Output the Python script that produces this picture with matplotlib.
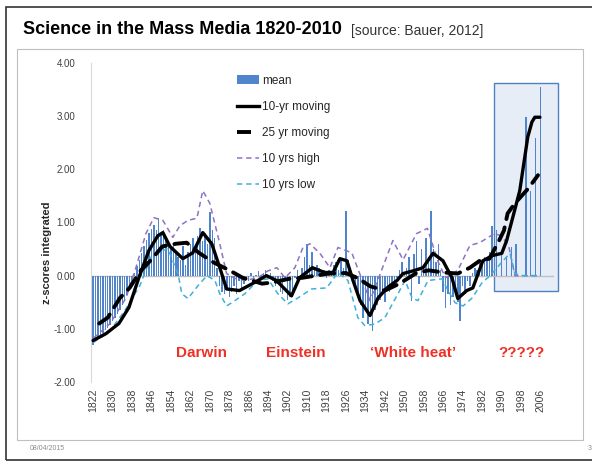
import matplotlib
matplotlib.use("Agg")
import matplotlib.pyplot as plt
from matplotlib.patches import Rectangle, Patch
from matplotlib.lines import Line2D

# ---------------- data ----------------
bar_years = list(range(1822, 2007))
bar_values = [
    -1.30, -1.22, -1.18, -1.12, -1.08, -1.02, -0.98, -0.92, -0.86, -0.80,   # 1822-1831
    -0.72, -0.64, -0.55, -0.45, -0.36, -0.26, -0.12, 0.05, 0.18, 0.30,      # 1832-1841
    0.42, 0.55, 0.68, 0.80, 0.88, 0.95, 0.85, 1.08, 0.80, 0.85,             # 1842-1851
    0.70, 0.55, 0.50, 0.62, 0.45, 0.35, 0.30, 0.55, 0.20, 0.45,             # 1852-1861
    0.60, 0.70, 0.55, 0.75, 0.90, 0.65, 0.80, 0.60, 1.20, 0.85,             # 1862-1871
    0.70, 0.15, -0.20, -0.30, -0.35, -0.25, -0.40, -0.30, -0.20, -0.35,     # 1872-1881
    -0.10, -0.25, -0.15, -0.05, -0.10, 0.05, -0.10, 0.02, 0.08, -0.05,      # 1882-1891
    0.05, 0.10, -0.05, 0.05, -0.10, -0.20, -0.15, -0.30, -0.35, -0.10,      # 1892-1901
    -0.45, -0.40, -0.30, -0.05, 0.10, -0.10, 0.15, 0.35, 0.60, 0.20,        # 1902-1911
    0.45, 0.10, 0.20, 0.15, 0.05, 0.10, -0.05, 0.10, 0.05, 0.20,            # 1912-1921
    0.25, 0.10, 0.30, 0.15, 1.22, 0.30, 0.05, -0.10, -0.25, -0.40,          # 1922-1931
    -0.55, -0.80, -0.60, -0.90, -0.70, -1.05, -0.65, -0.55, -0.45, -0.35,   # 1932-1941
    -0.50, -0.25, -0.30, -0.15, -0.20, -0.05, 0.10, 0.25, 0.05, 0.15,       # 1942-1951
    0.35, -0.47, 0.40, 0.66, -0.15, 0.50, 0.15, 0.70, 0.35, 1.22,           # 1952-1961
    0.50, 0.25, 0.60, 0.10, -0.30, -0.60, -0.35, -0.55, -0.40, -0.30,       # 1962-1971
    -0.50, -0.85, -0.20, -0.35, -0.10, -0.20, 0.05, 0.15, 0.10, 0.25,       # 1972-1981
    0.20, 0.35, 0.30, 0.45, 0.94, 0.00, 0.85, 0.00, 0.40, 0.00,             # 1982-1991
    0.35, 0.00, 0.53, 0.00, 0.60, 0.00, 0.00, 0.00, 2.98, 0.00,             # 1992-2001
    1.60, 0.00, 2.58, 0.00, 3.55,                                           # 2002-2006
]
# tall late bars sit on even years in the picture
bar_years_late_fix = {1999: 2000, 2001: 2002, 2003: 2004, 2005: 2006}

ma10_years = [1822, 1827.3, 1832.6, 1836.7, 1840.8, 1844.9, 1848.6, 1850.7, 1853.6, 1858.9,
              1863, 1867.1, 1870.8, 1874.1, 1876.9, 1882.2, 1887.5, 1893.3, 1897.4, 1903.6,
              1906.9, 1912.2, 1917.2, 1920.7, 1923.5, 1926.4, 1928.9, 1931.8, 1935.9, 1939.2,
              1942.9, 1947, 1949.5, 1953.6, 1957.7, 1961.8, 1965.9, 1969.6, 1972, 1975.7,
              1978.2, 1982.3, 1986.4, 1990.1, 1992.1, 1995.4, 1997.5, 2000.8, 2002.5, 2003.7, 2005.8]
ma10_values = [-1.22, -1.09, -0.90, -0.60, -0.04, 0.47, 0.75, 0.81, 0.55, 0.32,
               0.43, 0.81, 0.60, 0.15, -0.25, -0.28, -0.15, 0.00, -0.09, -0.38,
               -0.04, 0.15, 0.06, 0.06, 0.32, 0.28, -0.09, -0.47, -0.75, -0.42,
               -0.23, -0.09, 0.04, 0.09, 0.15, 0.42, 0.28, -0.04, -0.43, -0.28,
               -0.23, 0.28, 0.38, 0.42, 0.66, 1.23, 1.60, 2.61, 2.89, 2.98, 2.98]

ma25_years = [1824.5, 1828, 1833, 1837, 1841.5, 1845.5, 1850.5, 1856, 1860.5, 1865.5,
              1871.5, 1878.5, 1883.5, 1891.5, 1895.5, 1902.5, 1908, 1919, 1926, 1931,
              1936, 1942, 1948, 1955, 1960, 1966, 1972, 1977, 1981, 1985,
              1989, 1991, 1992.5, 1995.5, 2001, 2005]
ma25_values = [-0.90, -0.79, -0.42, -0.23, 0.09, 0.28, 0.55, 0.60, 0.62, 0.43,
               0.25, 0.09, -0.04, -0.15, -0.13, -0.06, -0.04, 0.04, 0.05, -0.05,
               -0.20, -0.28, -0.15, 0.05, 0.10, 0.06, 0.04, 0.15, 0.28, 0.32,
               0.66, 0.85, 1.17, 1.36, 1.64, 1.89]

high_years = [1822, 1829, 1835.5, 1839.6, 1843.7, 1847, 1850.7, 1854.8, 1857.7, 1861,
              1864.7, 1867.1, 1870, 1874.1, 1876.9, 1880.3, 1884.4, 1889.8, 1893.9, 1897.6,
              1900.9, 1905, 1908.3, 1911.2, 1915.3, 1919.4, 1922.7, 1928.4, 1935.9, 1945.3,
              1949.5, 1955, 1959.5, 1964, 1967, 1972, 1977, 1981, 1987, 1990,
              1993, 1995.5, 2006]
high_values = [-1.18, -0.90, -0.42, 0.15, 0.79, 1.09, 1.04, 0.72, 0.94, 1.04,
               1.08, 1.60, 1.36, 0.60, 0.04, -0.05, -0.09, -0.04, 0.09, 0.15,
               -0.04, 0.15, 0.53, 0.60, 0.42, 0.15, 0.53, 0.43, -0.47, 0.66,
               0.30, 0.79, 0.89, 0.25, -0.04, 0.10, 0.57, 0.62, 0.79, 0.75,
               0.55, 0.00, 0.00]

low_years = [1822, 1828.9, 1835, 1841.2, 1846.1, 1852.7, 1856.9, 1858.5, 1861, 1865.1,
             1868.8, 1872.1, 1874.1, 1876.9, 1880.3, 1884.4, 1889.8, 1893.9, 1898, 1902.1,
             1906.2, 1911.9, 1918.1, 1922.7, 1926.8, 1930.9, 1933.8, 1937.9, 1942, 1947.4,
             1950.3, 1953.2, 1955.6, 1959.8, 1965.5, 1968, 1970.9, 1974.2, 1977.9, 1982,
             1985.3, 1990.6, 1993.5, 1995.5, 1998.8, 2005.8]
low_values = [-1.26, -1.04, -0.66, -0.19, 0.38, 0.51, 0.04, -0.34, -0.43, -0.19,
              0.00, -0.09, -0.34, -0.57, -0.47, -0.34, -0.09, -0.06, -0.34, -0.53,
              -0.42, -0.25, -0.23, 0.06, -0.09, -0.79, -0.94, -0.91, -0.79, -0.34,
              -0.09, -0.42, -0.47, -0.09, -0.06, -0.28, -0.51, -0.57, -0.42, -0.13,
              0.00, 0.28, 0.42, 0.04, 0.00, 0.00]

x_tick_years = list(range(1822, 2007, 8))
y_ticks = [-2, -1, 0, 1, 2, 3, 4]

annotations = [("Darwin", 1866.7), ("Einstein", 1905.4), ("\u2018White heat\u2019", 1953.5), ("?????", 1998)]
box_years = (1986.9, 2013.4)
box_values = (-0.28, 3.62)

# ---------------- figure ----------------
plt.rcParams['font.family'] = ['Liberation Sans', 'DejaVu Sans']
fig = plt.figure(figsize=(5.92, 4.72), dpi=100)

# slide frames
fig.patches.append(Rectangle((6/592, 1-460/472), 590/592, (460-7)/472, transform=fig.transFigure,
                             fill=False, edgecolor='#333333', linewidth=1.2))
fig.patches.append(Rectangle((17/592, 1-440/472), (583-17)/592, (440-49)/472, transform=fig.transFigure,
                             fill=False, edgecolor='#bfbfbf', linewidth=0.8))

ax = fig.add_axes([90.7/592, 1-382/472, (553.8-90.7)/592, (382-63)/472])

# highlight box
ax.add_patch(Rectangle((box_years[0], box_values[0]), box_years[1]-box_years[0],
                       box_values[1]-box_values[0], facecolor='#e6edf7', edgecolor='#4f81bd',
                       linewidth=1.0, zorder=0, clip_on=False))

yrs = [bar_years_late_fix.get(y, y) for y in bar_years]
ax.bar(yrs, bar_values, width=0.6, color='#5085cc', linewidth=0, zorder=2)
ax.axhline(0, color='#bfbfbf', linewidth=1.0, zorder=1.5)

ax.plot(high_years, high_values, color='#8e72c4', linewidth=1.1, dashes=(3.5, 2.5), zorder=3)
ax.plot(low_years, low_values, color='#3fb0d8', linewidth=1.1, dashes=(3.5, 2.5), zorder=3)
ax.plot(ma25_years, ma25_values, color='black', linewidth=2.8, dashes=(3.6, 2.2),
        solid_capstyle='round', dash_capstyle='round', zorder=4)
ax.plot(ma10_years, ma10_values, color='black', linewidth=2.4, solid_capstyle='round', zorder=5)

ax.set_xlim(1821, 2011.5)
ax.set_ylim(-2, 4)
ax.set_yticks(y_ticks)
ax.set_yticklabels([f"{v:.2f}" for v in y_ticks])
ax.set_xticks(x_tick_years)
ax.set_xticklabels([str(y) for y in x_tick_years], rotation=90)
ax.tick_params(axis='both', length=0, labelsize=7, colors='#404040')
ax.tick_params(axis='y', pad=11)
ax.tick_params(axis='x', labelsize=7.5, pad=5)
for s in ['top', 'right', 'bottom']:
    ax.spines[s].set_visible(False)
ax.spines['left'].set_color('#d9d9d9')
ax.set_ylabel("z-scores integrated", fontsize=8, fontweight='bold', color='#262626')
ax.yaxis.set_label_coords((52 - 90.7) / 463.1, (382 - 253) / 319)

for txt, yr in annotations:
    ax.text(yr, -1.45, txt, color='#ee3124', fontsize=11, fontweight='bold',
            ha='center', va='center', zorder=6)

handles = [Patch(facecolor='#5085cc', edgecolor='none'),
           Line2D([], [], color='black', linewidth=2.4),
           Line2D([], [], color='black', linewidth=2.8, dashes=(3.6, 2.2)),
           Line2D([], [], color='#8e72c4', linewidth=1.1, dashes=(3.5, 2.5)),
           Line2D([], [], color='#3fb0d8', linewidth=1.1, dashes=(3.5, 2.5))]
labels = ["mean", "10-yr moving", "25 yr moving", "10 yrs high", "10 yrs low"]
ax.legend(handles, labels, loc='upper left', bbox_to_anchor=(0.303, 0.982), frameon=False,
          fontsize=8.5, handlelength=1.9, handletextpad=0.25, labelspacing=1.2,
          labelcolor='#262626', borderpad=0)

fig.text(23/592, 1-30/472, "Science in the Mass Media 1820-2010", fontsize=13,
         fontweight='bold', ha='left', va='center', color='black')
fig.text(351/592, 1-31/472, "[source: Bauer, 2012]", fontsize=10, ha='left', va='center',
         color='#333333')
fig.text(30/592, 1-449/472, "08/04/2015", fontsize=5, color='#8c8c8c', ha='left', va='center')
fig.text(588/592, 1-449/472, "3", fontsize=5, color='#8c8c8c', ha='left', va='center')

fig.savefig("out.png", dpi=100)
